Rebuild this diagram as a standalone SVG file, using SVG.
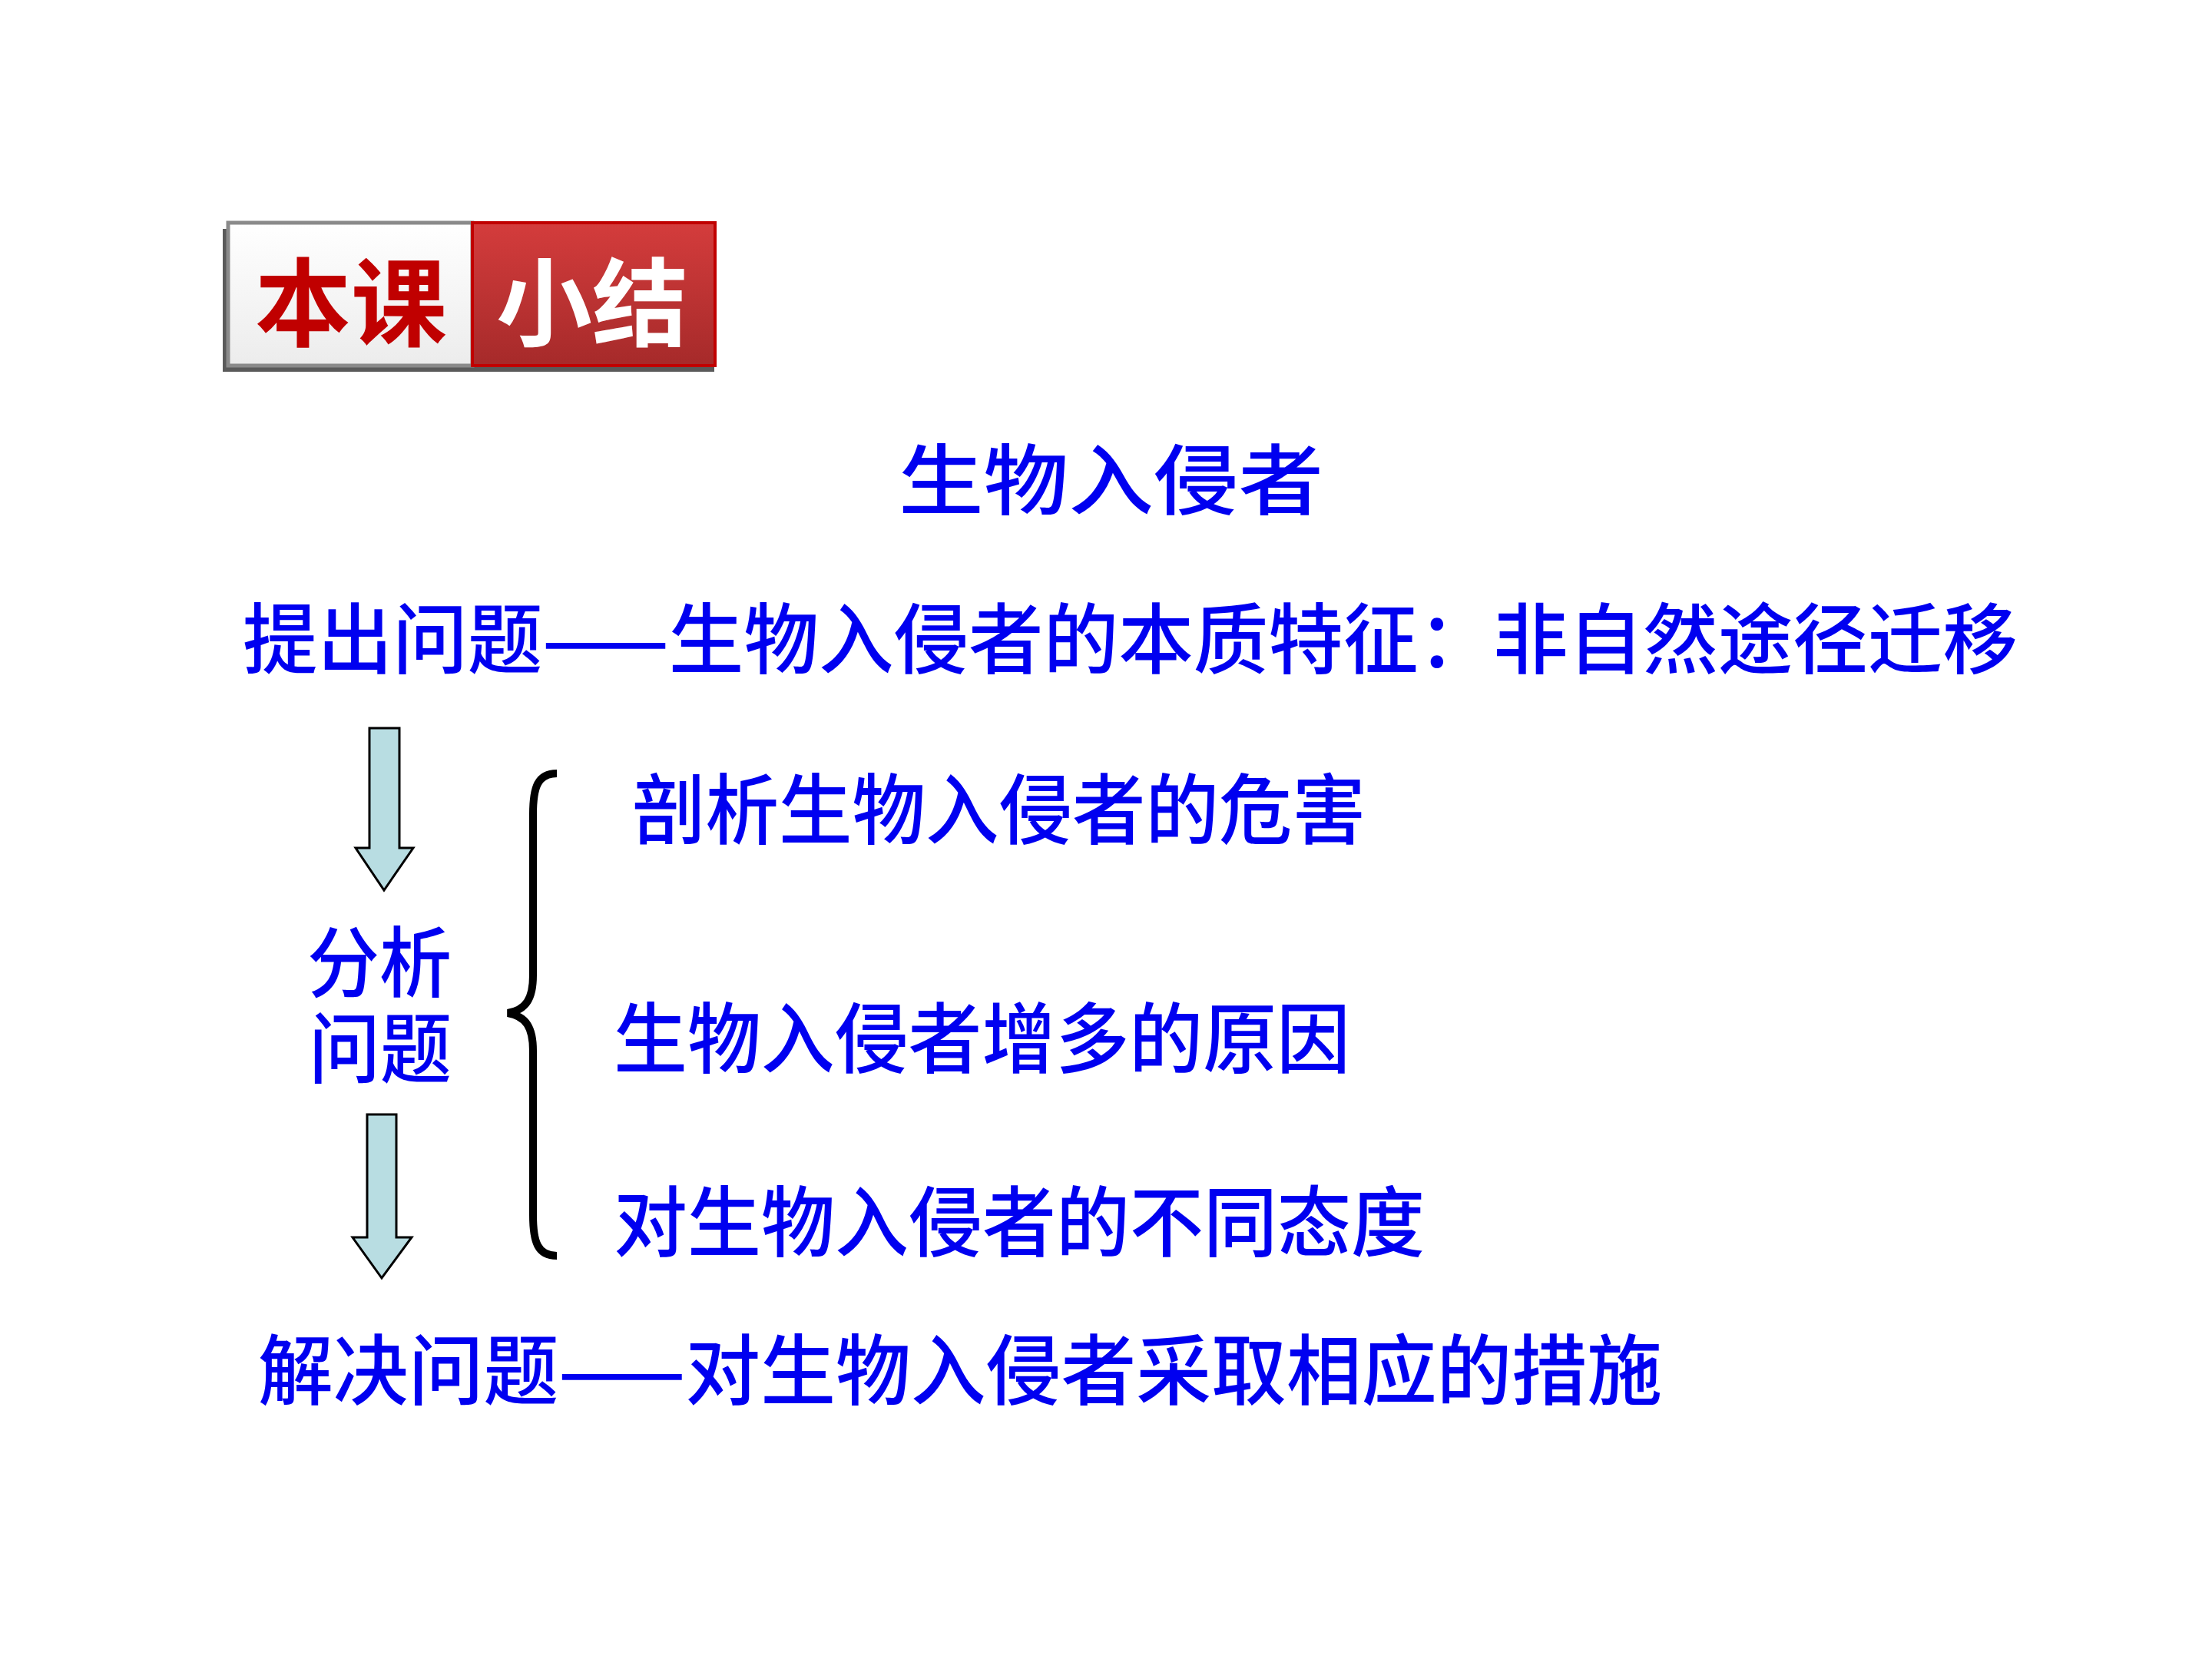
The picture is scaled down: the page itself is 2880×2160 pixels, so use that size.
<svg xmlns="http://www.w3.org/2000/svg" width="2880" height="2160" viewBox="0 0 2880 2160">
<defs>
<linearGradient id="gw" x1="0" y1="0" x2="0" y2="1"><stop offset="0" stop-color="#ffffff"/><stop offset="1" stop-color="#ececec"/></linearGradient>
<linearGradient id="gr" x1="0" y1="0" x2="0" y2="1"><stop offset="0" stop-color="#d43c3c"/><stop offset="1" stop-color="#a62a2a"/></linearGradient>
<style>
.t{font-family:"Noto Sans CJK SC","Noto Sans CJK TC",sans-serif;fill:#0000f0;font-size:100px;font-weight:500}
.b{font-family:"Noto Sans CJK SC",sans-serif;font-size:125px;font-weight:bold;text-anchor:middle}
.arr{fill:#b8dde2;stroke:#000;stroke-width:3;stroke-linejoin:miter}
</style>
</defs>
<rect width="2880" height="2160" fill="#fff"/>
<g id="badge">
<rect x="290" y="298" width="640" height="186" fill="#5a5a5a"/>
<rect x="297" y="290" width="318" height="186" fill="url(#gw)" stroke="#8a8a8a" stroke-width="5"/>
<rect x="615" y="290" width="316" height="186" fill="url(#gr)" stroke="#c00000" stroke-width="4"/>
<text class="b" x="457" y="441" fill="#c00000">本课</text>
<text class="b" x="771" y="441" fill="#ffffff">小结</text>
</g>
<g id="title"><text class="t" x="1170" y="662" font-size="112" textLength="553" lengthAdjust="spacingAndGlyphs">生物入侵者</text></g>
<g id="q1"><text class="t" x="316" y="869" textLength="2311" lengthAdjust="spacingAndGlyphs">提出问题——生物入侵者的本质特征：非自然途径迁移</text></g>
<g id="a1"><text class="t" x="823" y="1091" textLength="955" lengthAdjust="spacingAndGlyphs">剖析生物入侵者的危害</text></g>
<g id="analyze">
<text class="t" x="400" y="1290" font-size="97" textLength="188" lengthAdjust="spacingAndGlyphs">分析</text>
<text class="t" x="402" y="1402" font-size="97" textLength="186" lengthAdjust="spacingAndGlyphs">问题</text>
</g>
<g id="a2"><text class="t" x="799" y="1389" textLength="959" lengthAdjust="spacingAndGlyphs">生物入侵者增多的原因</text></g>
<g id="a3"><text class="t" x="799" y="1628" textLength="1056" lengthAdjust="spacingAndGlyphs">对生物入侵者的不同态度</text></g>
<g id="solve"><text class="t" x="336" y="1821" textLength="1828" lengthAdjust="spacingAndGlyphs">解决问题——对生物入侵者采取相应的措施</text></g>
<g id="connectors">
<path class="arr" d="M481,948 H520 V1104 H538 L500,1159 L463,1104 H481 Z"/>
<path class="arr" d="M478,1451 H516 V1611 H536 L497,1664 L459,1611 H478 Z"/>
<path d="M725,1007 C700,1007 694,1025 694,1060 V1270 C694,1300 685,1315 661,1319 C685,1323 694,1338 694,1368 V1582 C694,1617 700,1635 725,1635" fill="none" stroke="#000" stroke-width="10"/>
</g>
</svg>
